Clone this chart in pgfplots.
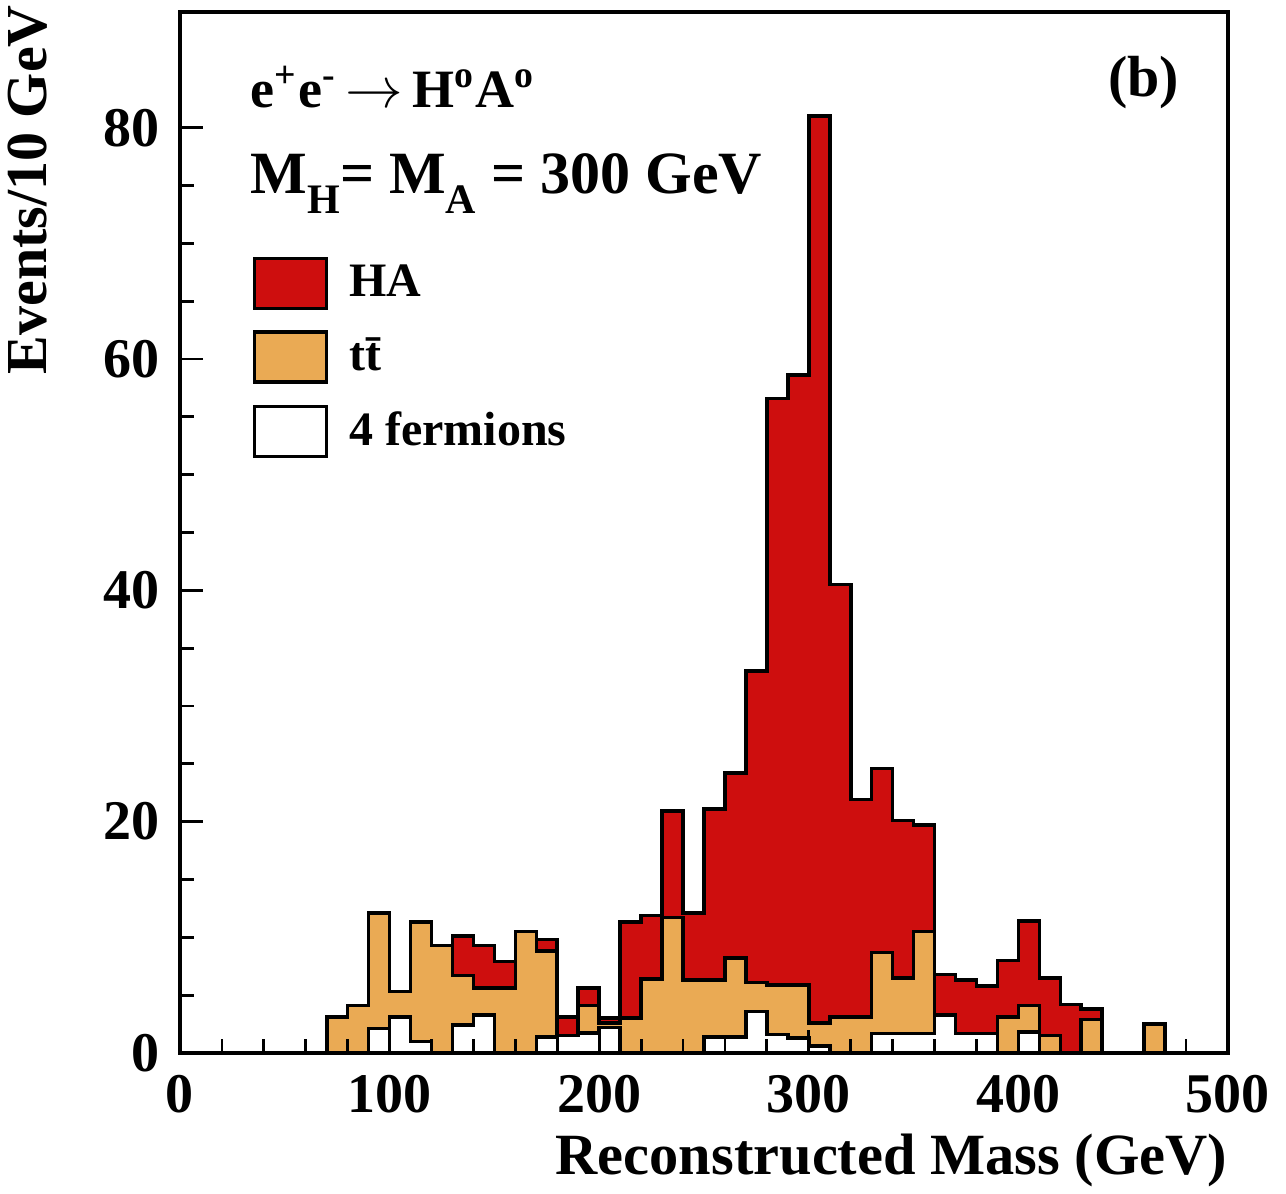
\documentclass[border=0pt]{standalone}
\usepackage{pgfplots}
\pgfplotsset{compat=1.18}
\usepackage{fontspec}
\setmainfont{Liberation Serif}
\definecolor{hared}{RGB}{206,14,14}
\definecolor{ttorange}{RGB}{234,170,84}

\begin{document}
\begin{tikzpicture}
\begin{axis}[
  scale only axis, width=262pt, height=260.25pt,
  xmin=0, xmax=500, ymin=0, ymax=90,
  xtick={0,100,...,500}, ytick={0,20,...,80},
  minor x tick num=4, minor y tick num=3,
  xtick pos=bottom, ytick pos=left,
  tick align=inside,
  major tick length=5.75pt, minor tick length=3.5pt,
  every tick/.style={black, line width=0.7pt},
  axis line style={line width=0.8pt},
  axis on top,
  /pgf/number format/assume math mode=true,
  tick label style={font=\fontsize{14}{16}\selectfont\bfseries},
  xticklabel style={anchor=base, yshift=-15pt, inner sep=0pt},
  yticklabel style={anchor=east, xshift=-5pt, inner sep=0pt},
  xlabel={Reconstructed Mass (GeV)},
  xlabel style={at={(axis description cs:1,-0.1172)}, anchor=base east, inner sep=0pt, font=\fontsize{14.6}{16}\selectfont\bfseries},
  ylabel={Events/10 GeV},
  ylabel style={at={(axis description cs:-0.1269,0.6513)}, anchor=base west, inner sep=0pt, font=\fontsize{14.5}{16}\selectfont\bfseries},
  legend style={draw=none, fill=none, at={(axis description cs:0.0690,0.7658)}, anchor=north west, inner sep=0pt, row sep=4.8pt, column sep=3.2pt, font=\fontsize{12}{14}\selectfont\bfseries},
  legend cell align=left,
  legend image code/.code={\draw[#1, line width=0.8pt] (0pt,-6.25pt) rectangle (18pt,6.25pt);},
]
% total = HA + ttbar + 4 fermions (cumulative tops)
\addplot[const plot, fill=hared, draw=black, line width=0.9pt] coordinates {
(70,3.1) (80,4.1) (90,12.1) (100,5.3) (110,11.3) (120,9.3) (130,10.1) (140,9.3) (150,7.9) (160,10.5)
(170,9.8) (180,3.1) (190,5.6) (200,3.0) (210,11.3) (220,11.9) (230,20.9) (240,12.1) (250,21.1) (260,24.2)
(270,33.0) (280,56.6) (290,58.6) (300,81.0) (310,40.5) (320,21.9) (330,24.6) (340,20.1) (350,19.7) (360,6.8)
(370,6.3) (380,5.8) (390,8.0) (400,11.4) (410,6.5) (420,4.2) (430,3.8) (440,0) (450,0) (460,2.5) (470,2.5)
} \closedcycle;
\addlegendentry{HA}
% ttbar + 4 fermions
\addplot[const plot, fill=ttorange, draw=black, line width=0.9pt] coordinates {
(70,3.1) (80,4.1) (90,12.1) (100,5.3) (110,11.3) (120,9.3) (130,6.7) (140,5.6) (150,5.6) (160,10.5)
(170,8.8) (180,1.5) (190,4.1) (200,2.6) (210,3.0) (220,6.4) (230,11.7) (240,6.3) (250,6.3) (260,8.2)
(270,6.1) (280,5.9) (290,5.9) (300,2.6) (310,3.1) (320,3.1) (330,8.7) (340,6.5) (350,10.5) (360,3.3)
(370,1.7) (380,1.7) (390,3.1) (400,4.1) (410,1.5) (420,0) (430,2.9) (440,0) (450,0) (460,2.5) (470,2.5)
} \closedcycle;
\addlegendentry{t\={t}}
% 4 fermions
\addplot[const plot, fill=white, draw=black, line width=0.9pt] coordinates {
(70,0) (80,0) (90,2.1) (100,3.1) (110,1.0) (120,0) (130,2.4) (140,3.3) (150,0) (160,0)
(170,1.4) (180,1.5) (190,1.75) (200,2.2) (210,0) (220,0) (230,0) (240,0) (250,1.4) (260,1.4)
(270,3.6) (280,1.6) (290,1.3) (300,0.6) (310,0) (320,0) (330,1.7) (340,1.7) (350,1.7) (360,3.3)
(370,1.7) (380,1.7) (390,0) (400,1.8) (410,0) (420,0) (430,0) (440,0) (450,0) (460,0) (470,0)
} \closedcycle;
\addlegendentry{4 fermions}
\node[anchor=base west, inner sep=0pt, font=\fontsize{13.5}{15}\selectfont\bfseries] at (axis description cs:0.0668,0.9078)
  {e\textsuperscript{+}e\textsuperscript{-}\,$\rightarrow$\,H\textsuperscript{o}A\textsuperscript{o}};
\node[anchor=base west, inner sep=0pt, font=\fontsize{15}{17}\selectfont\bfseries] at (axis description cs:0.0668,0.8261)
  {M\raisebox{-5pt}{\fontsize{10.5}{12}\selectfont H}= M\raisebox{-5pt}{\fontsize{10.5}{12}\selectfont A} = 300 GeV};
\node[anchor=base east, inner sep=0pt, font=\fontsize{14.5}{16}\selectfont\bfseries] at (axis description cs:0.9542,0.9184) {(b)};
\end{axis}
\pgfresetboundingbox
\path[use as bounding box] (-45pt,-35.25pt) rectangle (276.5pt,263.25pt);
\end{tikzpicture}
\end{document}
